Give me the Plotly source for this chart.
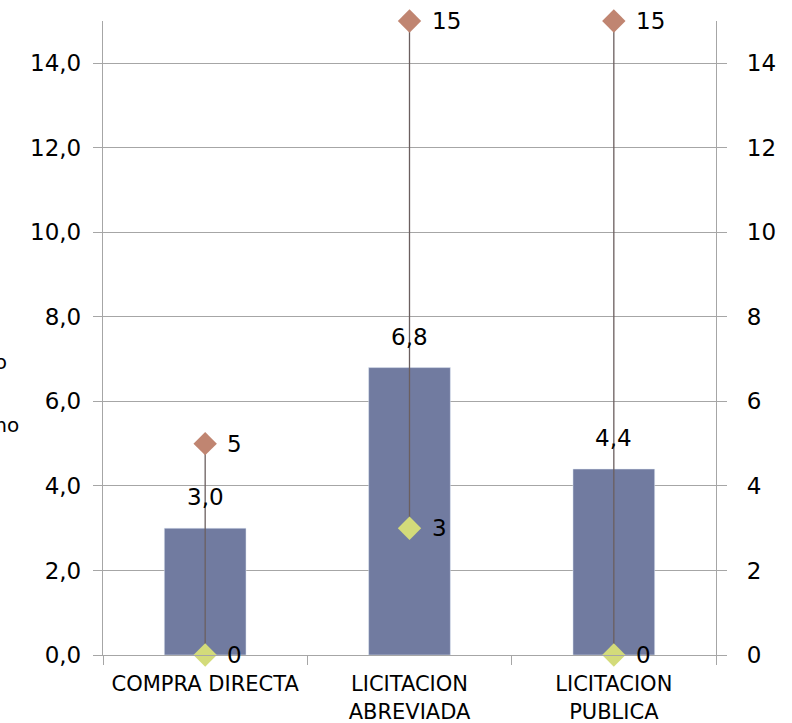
import plotly.graph_objects as go

categories = ["COMPRA DIRECTA", "LICITACION<br>ABREVIADA", "LICITACION<br>PUBLICA"]
promedio = [3.0, 6.8, 4.4]
maximo = [5, 15, 15]
minimo = [0, 3, 0]
left_ticks = [0, 2, 4, 6, 8, 10, 12, 14]

FONT = "DejaVu Sans"
BAR = "#717BA0"
MAXC = "#C08571"
MINC = "#D3DB7A"
LINEC = "#6B5F5F"
GRID = "#A6A6A6"
NUM = 23

fig = go.Figure()
fig.add_trace(go.Bar(x=categories, y=promedio, marker_color=BAR, width=0.4,
                     showlegend=False, hoverinfo="skip"))

# high-low lines
for c, lo, hi in zip(categories, minimo, maximo):
    fig.add_trace(go.Scatter(x=[c, c], y=[lo, hi], mode="lines",
                             line=dict(color=LINEC, width=1.3), cliponaxis=False,
                             showlegend=False, hoverinfo="skip", yaxis="y2"))

fig.add_trace(go.Scatter(x=categories, y=maximo, mode="markers", cliponaxis=False,
                         marker=dict(symbol="diamond", size=18, color=MAXC),
                         showlegend=False, yaxis="y2"))
fig.add_trace(go.Scatter(x=categories, y=minimo, mode="markers", cliponaxis=False,
                         marker=dict(symbol="diamond", size=18, color=MINC),
                         showlegend=False, yaxis="y2"))

ann = []
for c, v in zip(categories, promedio):
    ann.append(dict(x=c, y=v, xref="x", yref="y", text=f"{v:.1f}".replace(".", ","),
                    showarrow=False, yanchor="bottom", yshift=16,
                    font=dict(family=FONT, size=NUM, color="#000")))
for c, v in zip(categories, maximo):
    ann.append(dict(x=c, y=v, xref="x", yref="y2", text=str(v), showarrow=False,
                    xanchor="left", xshift=20, font=dict(family=FONT, size=NUM, color="#000")))
for c, v in zip(categories, minimo):
    ann.append(dict(x=c, y=v, xref="x", yref="y2", text=str(v), showarrow=False,
                    xanchor="left", xshift=20, font=dict(family=FONT, size=NUM, color="#000")))

# partially visible left axis title (cut off in the original)
L, T, R, B = 103, 21, 76, 68
W, H = 792 - L - R, 723 - T - B
ann.append(dict(x=(9 - L) / W, y=(655 - 362) / H, xref="paper", yref="paper",
                text="Promedio", showarrow=False, xanchor="right",
                font=dict(family=FONT, size=20, color="#000")))
ann.append(dict(x=(21 - L) / W, y=(655 - 425) / H, xref="paper", yref="paper",
                text="Máximo y mínimo", showarrow=False, xanchor="right",
                font=dict(family=FONT, size=20, color="#000")))

fig.update_layout(
    width=792, height=723,
    margin=dict(l=L, r=R, t=T, b=B, autoexpand=False),
    paper_bgcolor="white", plot_bgcolor="white",
    separators=", ",
    bargap=0.6,
    annotations=ann,
    font=dict(family=FONT, size=NUM, color="#000"),
    xaxis=dict(type="category", tickson="boundaries", ticks="outside", ticklen=9,
               tickcolor=GRID, showline=True, linecolor=GRID, linewidth=1.3,
               showgrid=False, tickfont=dict(family=FONT, size=21, color="#000"),
               ticklabelstandoff=10, range=[-0.5, 2.5], automargin=False),
    yaxis=dict(range=[0, 15], tickvals=left_ticks, tickformat=".1f",
               showgrid=True, gridcolor=GRID, gridwidth=1.3,
               showline=True, linecolor=GRID, linewidth=1.3, automargin=False,
               ticks="outside", ticklen=9, tickcolor=GRID, zeroline=False,
               ticklabelstandoff=7, tickfont=dict(family=FONT, size=NUM, color="#000")),
    yaxis2=dict(range=[0, 15], tickvals=left_ticks, tickformat="d", overlaying="y",
                side="right", showgrid=False, showline=True, linecolor=GRID,
                linewidth=1.3, ticks="outside", ticklen=10, tickcolor=GRID,
                zeroline=False, ticklabelstandoff=15, automargin=False,
                tickfont=dict(family=FONT, size=NUM, color="#000")),
)

fig.write_html("out.html", config={"displayModeBar": False},
               post_script="document.body.style.margin='0';")
